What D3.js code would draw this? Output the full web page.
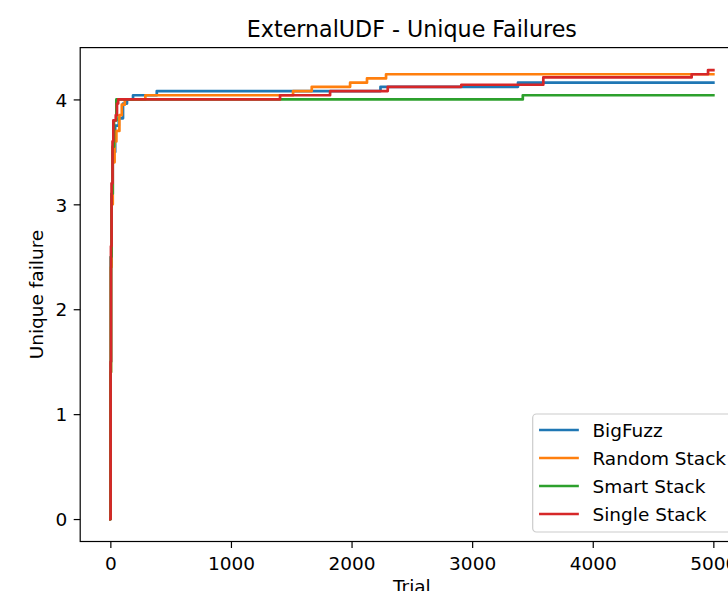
<!DOCTYPE html>
<html>
<head>
<meta charset="utf-8">
<script src="https://cdn.jsdelivr.net/npm/d3@7"></script>
<style>
  html, body { margin: 0; padding: 0; background: #fff; overflow: hidden; }
  text { font-family: "DejaVu Sans", sans-serif; fill: #000; }
</style>
</head>
<body>
<svg id="chart" width="728" height="591"></svg>
<script>
// ---- data ----
const trialTicks = [0, 1000, 2000, 3000, 4000, 5000];
const failureTicks = [0, 1, 2, 3, 4];
const seriesNames = ["BigFuzz", "Random Stack", "Smart Stack", "Single Stack"];
const seriesColors = ["#1f77b4", "#ff7f0e", "#2ca02c", "#d62728"];

const bigFuzzTrials = [0, 2, 5, 10, 20, 40, 70, 105, 138, 188, 385, 2240, 3380, 5000];
const bigFuzzValues = [0, 1.5, 2.5, 3.1, 3.5, 3.75, 3.82, 3.96, 4.0, 4.04, 4.08, 4.12, 4.16, 4.16];

const randomStackTrials = [0, 2, 5, 10, 20, 35, 50, 75, 95, 120, 290, 1515, 1670, 1988, 2128, 2286, 5000];
const randomStackValues = [0, 1.4, 2.4, 3.0, 3.4, 3.6, 3.7, 3.85, 3.95, 4.0, 4.04, 4.08, 4.12, 4.16, 4.2, 4.24, 4.24];

const smartStackTrials = [0, 2, 5, 10, 18, 30, 50, 3420, 5000];
const smartStackValues = [0, 1.4, 2.5, 3.1, 3.55, 3.8, 4.0, 4.04, 4.04];

const singleStackTrials = [0, 2, 5, 10, 18, 25, 45, 55, 65, 1407, 1822, 2300, 2910, 3590, 4820, 4956, 5000];
const singleStackValues = [0, 1.5, 2.6, 3.2, 3.6, 3.8, 3.85, 3.96, 4.0, 4.04, 4.08, 4.12, 4.14, 4.21, 4.24, 4.28, 4.28];

const titleText = "ExternalUDF - Unique Failures";
const xLabelText = "Trial";
const yLabelText = "Unique failure";

// ---- layout ----
const svg = d3.select("#chart");
svg.append("rect").attr("width", 728).attr("height", 591).attr("fill", "#fff");

const axLeft = 80.2, axRight = 743.5, axTop = 47.6, axBottom = 541.5;
const fontPx = 18.5, titlePx = 22.2;

const trialsAll = [bigFuzzTrials, randomStackTrials, smartStackTrials, singleStackTrials];
const valuesAll = [bigFuzzValues, randomStackValues, smartStackValues, singleStackValues];

const xMin = d3.min(trialsAll.flat()), xMax = d3.max(trialsAll.flat());
const yMin = d3.min(valuesAll.flat()), yMax = d3.max(valuesAll.flat());
const xPad = (xMax - xMin) * 0.05, yPad = (yMax - yMin) * 0.05;

const x = d3.scaleLinear().domain([xMin - xPad, xMax + xPad]).range([axLeft, axRight]);
const y = d3.scaleLinear().domain([yMin - yPad, yMax + yPad]).range([axBottom, axTop]);

// clip for plot area
svg.append("defs").append("clipPath").attr("id", "plotclip")
  .append("rect").attr("x", axLeft).attr("y", axTop)
  .attr("width", axRight - axLeft).attr("height", axBottom - axTop);

// ---- lines ----
const line = d3.line()
  .x(d => x(d[0])).y(d => y(d[1]))
  .curve(d3.curveStepAfter);

const plot = svg.append("g").attr("clip-path", "url(#plotclip)");
trialsAll.forEach((tr, i) => {
  const pts = tr.map((t, j) => [t, valuesAll[i][j]]);
  plot.append("path")
    .datum(pts)
    .attr("d", line)
    .attr("fill", "none")
    .attr("stroke", seriesColors[i])
    .attr("stroke-width", 2.7)
    .attr("stroke-linejoin", "round")
    .attr("stroke-linecap", "square");
});

// ---- axes ----
const tickLen = 6.5, tickPad = 6.5;
const xAxis = d3.axisBottom(x).tickValues(trialTicks).tickFormat(d3.format("d"))
  .tickSizeInner(tickLen).tickSizeOuter(0).tickPadding(tickPad);
const yAxis = d3.axisLeft(y).tickValues(failureTicks).tickFormat(d3.format("d"))
  .tickSizeInner(tickLen).tickSizeOuter(0).tickPadding(tickPad);

const gx = svg.append("g").attr("transform", `translate(0,${axBottom})`).call(xAxis);
const gy = svg.append("g").attr("transform", `translate(${axLeft},0)`).call(yAxis);
[gx, gy].forEach(g => {
  g.selectAll(".domain").remove();
  g.selectAll(".tick line").attr("stroke", "#000").attr("stroke-width", 1.2);
  g.selectAll(".tick text").attr("font-size", fontPx).attr("font-family", "DejaVu Sans").attr("fill", "#000");
});
gx.selectAll(".tick text").attr("dy", "0.83em");
gy.selectAll(".tick text").attr("dy", "0.36em");

// spines
svg.append("rect")
  .attr("x", axLeft).attr("y", axTop)
  .attr("width", axRight - axLeft).attr("height", axBottom - axTop)
  .attr("fill", "none").attr("stroke", "#000").attr("stroke-width", 1.2);

// ---- titles ----
svg.append("text")
  .attr("x", (axLeft + axRight) / 2).attr("y", 36.5)
  .attr("text-anchor", "middle").attr("font-size", titlePx)
  .text(titleText);

svg.append("text")
  .attr("x", (axLeft + axRight) / 2).attr("y", 593)
  .attr("text-anchor", "middle").attr("font-size", fontPx)
  .text(xLabelText);

svg.append("text")
  .attr("transform", `translate(43,${(axTop + axBottom) / 2}) rotate(-90)`)
  .attr("text-anchor", "middle").attr("font-size", fontPx)
  .text(yLabelText);

// ---- legend ----
const legX = 532.7, legY = 414, legW = 202, legH = 118;
const leg = svg.append("g");
leg.append("rect")
  .attr("x", legX).attr("y", legY).attr("width", legW).attr("height", legH)
  .attr("rx", 3.7).attr("ry", 3.7)
  .attr("fill", "#fff").attr("fill-opacity", 0.8)
  .attr("stroke", "#cccccc").attr("stroke-width", 1.2);
seriesNames.forEach((name, i) => {
  const cy = 430 + i * 28;
  leg.append("line")
    .attr("x1", 540.4).attr("x2", 577.5).attr("y1", cy).attr("y2", cy)
    .attr("stroke", seriesColors[i]).attr("stroke-width", 2.7)
    .attr("stroke-linecap", "square");
  leg.append("text")
    .attr("x", 592.4).attr("y", cy).attr("dy", "0.36em")
    .attr("font-size", fontPx)
    .text(name);
});
</script>
</body>
</html>
